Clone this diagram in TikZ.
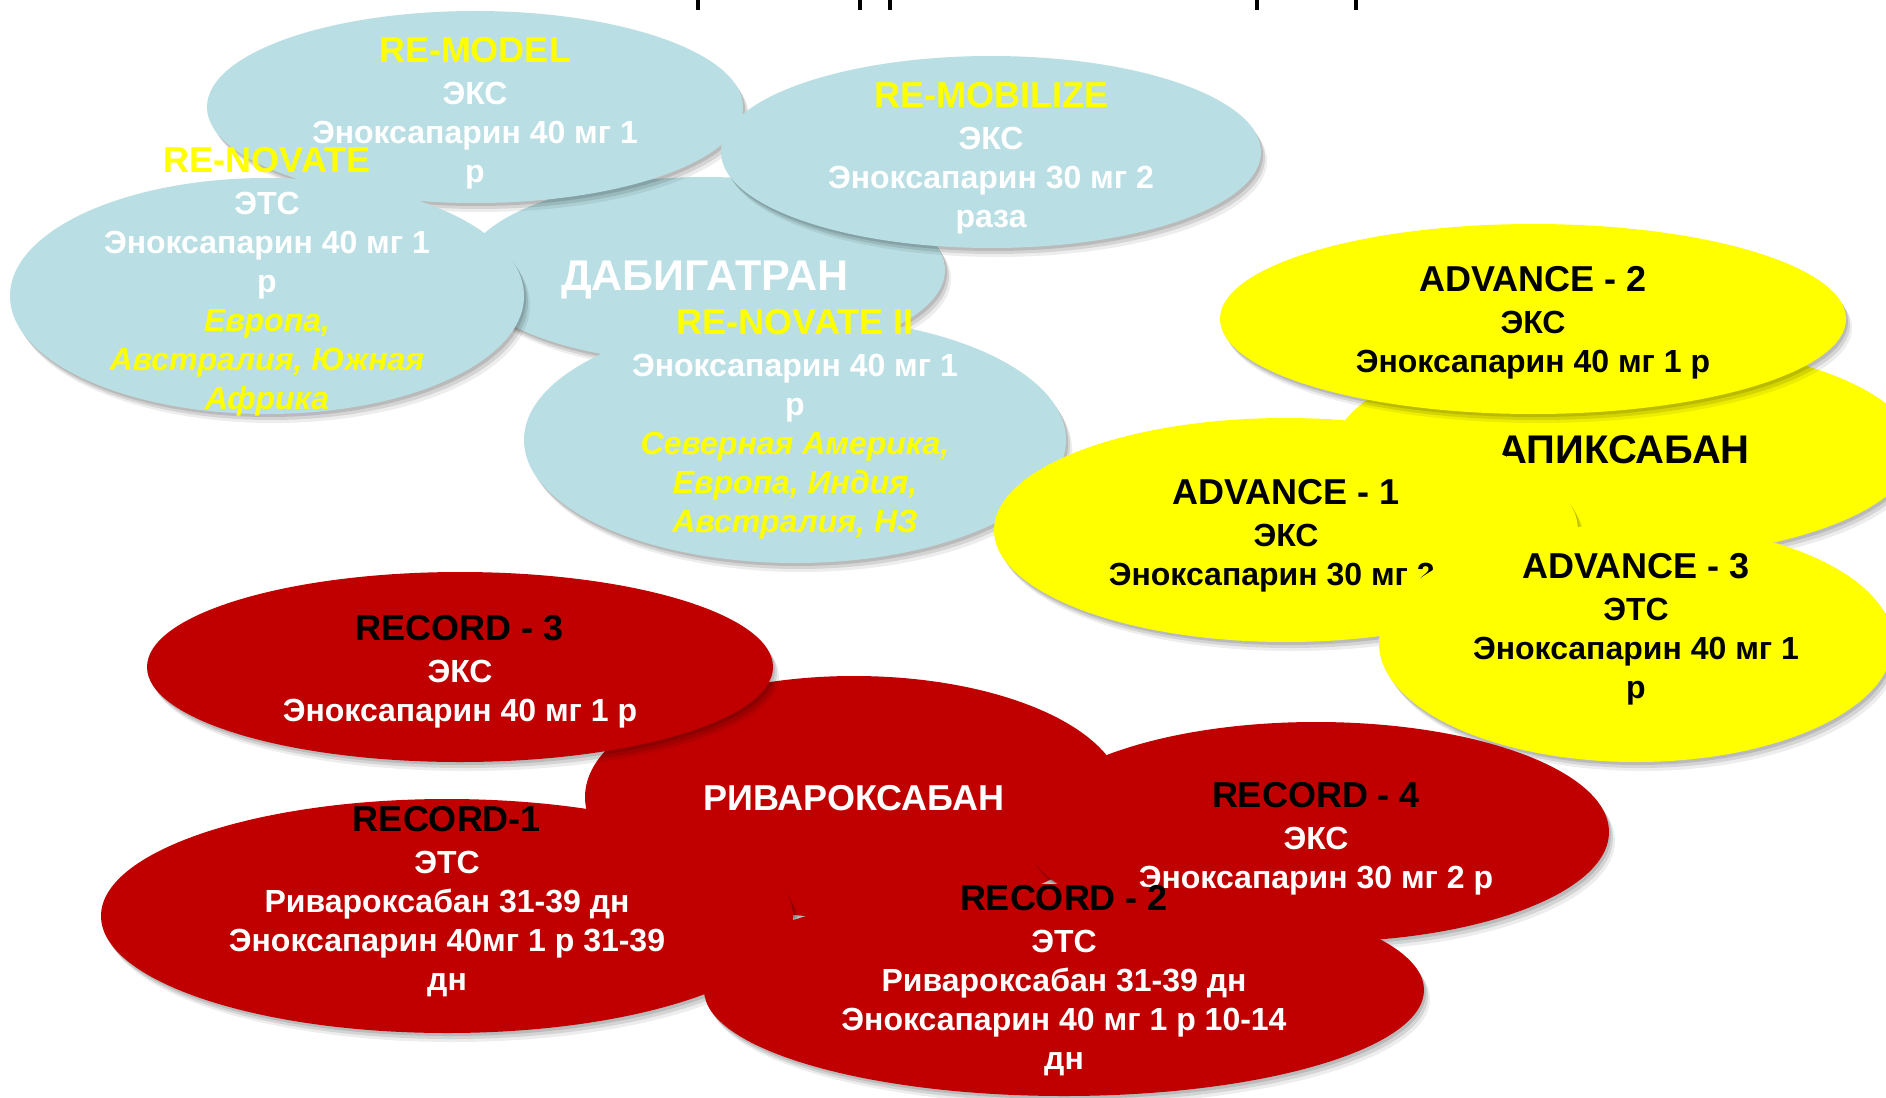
\documentclass[tikz,border=0pt]{standalone}
\usepackage{fontspec}
\setmainfont{Liberation Sans}
\definecolor{trialblue}{RGB}{185,223,228}
\definecolor{trialred}{RGB}{192,0,0}
\definecolor{trialyellow}{RGB}{255,255,0}
\usetikzlibrary{
  shapes.geometric,
  shadows,
}
\newcommand{\trialname}[1]{{\fontsize{36}{42}\selectfont #1}}
\tikzset{
  oval/.style={ellipse,inner sep=0pt,
    drop shadow={shadow xshift=2pt,shadow yshift=-3pt,opacity=0.12,fill=black},
    drop shadow={shadow xshift=4pt,shadow yshift=-6pt,opacity=0.10,fill=black},
    drop shadow={shadow xshift=6pt,shadow yshift=-9pt,opacity=0.07,fill=black}},
  blueoval/.style={oval,fill=trialblue},
  yellowoval/.style={oval,fill=trialyellow},
  redoval/.style={oval,fill=trialred},
  txt/.style={align=center,inner sep=0pt,font=\bfseries\fontsize{32}{39}\selectfont},
  drug/.style={inner sep=0pt,font=\bfseries\fontsize{40}{48}\selectfont},
}

\begin{document}
\begin{tikzpicture}[x=1pt,y=-1pt]
  \useasboundingbox (0,0) rectangle (1886,1097);
  \clip (0,0) rectangle (1886,1097);
  \fill[white] (0,0) rectangle (1886,1097);

  % cut title
  \foreach \x in {698,860,890,1257,1356}
    \draw[line width=3.5pt] (\x,0) -- (\x,10);

  % dabigatran
  \node[blueoval,minimum width=480,minimum height=186] (dabi) at (705,270) {};
  \node[drug,text=white,font=\bfseries\fontsize{43}{50}\selectfont] (dabi-t)
    at ([yshift=-10pt]dabi) {ДАБИГАТРАН};

  \node[blueoval,minimum width=536,minimum height=192] (remodel) at (475,107) {};
  \node[txt,text=white] (remodel-t) at ([yshift=-6pt]remodel)
    {\textcolor{trialyellow}{\trialname{RE-MODEL}}\\[3pt] ЭКС\\ Эноксапарин 40 мг 1\\ р};

  \node[blueoval,minimum width=514,minimum height=236] (renovate) at (267,296) {};
  \node[txt,text=white] (renovate-t) at ([yshift=14pt]renovate)
    {\textcolor{trialyellow}{\trialname{RE-NOVATE}}\\[3pt] ЭТС\\ Эноксапарин 40 мг 1\\ р\\
     \textcolor{trialyellow}{\itshape Европа,}\\ \textcolor{trialyellow}{\itshape Австралия, Южная}\\
     \textcolor{trialyellow}{\itshape Африка}};

  \node[blueoval,minimum width=540,minimum height=192] (remobilize) at (991,152) {};
  \node[txt,text=white] (remobilize-t) at ([yshift=-6pt]remobilize)
    {\textcolor{trialyellow}{\trialname{RE-MOBILIZE}}\\[3pt] ЭКС\\ Эноксапарин 30 мг 2\\ раза};

  \node[blueoval,minimum width=542,minimum height=246] (renovate2) at (795,440) {};
  \node[txt,text=white] (renovate2-t) at ([yshift=16pt]renovate2)
    {\textcolor{trialyellow}{\trialname{RE-NOVATE II}}\\[3pt] Эноксапарин 40 мг 1\\ р\\
     \textcolor{trialyellow}{\itshape Северная Америка,}\\ \textcolor{trialyellow}{\itshape Европа, Индия,}\\
     \textcolor{trialyellow}{\itshape Австралия, НЗ}};

  % apixaban
  \node[yellowoval,minimum width=580,minimum height=216] (apix) at (1624,450) {};
  \node[drug] (apix-t) at (apix) {АПИКСАБАН};

  \node[yellowoval,minimum width=626,minimum height=190] (adv2) at (1533,319) {};
  \node[txt] (adv2-t) at ([yshift=-4pt]adv2)
    {\trialname{ADVANCE - 2}\\[3pt] ЭКС\\ Эноксапарин 40 мг 1 р};

  \node[yellowoval,minimum width=584,minimum height=224] (adv1) at (1286,530) {};
  \node[txt] (adv1-t) at ([yshift=-6pt]adv1)
    {\trialname{ADVANCE - 1}\\[3pt] ЭКС\\ Эноксапарин 30 мг 2 р};

  \node[yellowoval,minimum width=514,minimum height=238] (adv3) at (1636,643) {};
  \node[txt] (adv3-t) at ([yshift=14pt]adv3)
    {\trialname{ADVANCE - 3}\\[3pt] ЭТС\\ Эноксапарин 40 мг 1\\ р};

  % rivaroxaban
  \node[redoval,minimum width=538,minimum height=242] (riva) at (854,797) {};
  \node[drug,text=white,font=\bfseries\fontsize{36}{42}\selectfont] (riva-t)
    at ([yshift=-1pt]riva) {РИВАРОКСАБАН};

  \node[redoval,minimum width=626,minimum height=190] (record3) at (460,667) {};
  \node[txt,text=white] (record3-t) at ([yshift=-5pt]record3)
    {\textcolor{black}{\trialname{RECORD - 3}}\\[3pt] ЭКС\\ Эноксапарин 40 мг 1 р};

  \node[redoval,minimum width=692,minimum height=234] (record1) at (447,916) {};
  \node[txt,text=white] (record1-t) at ([yshift=14pt]record1)
    {\textcolor{black}{\trialname{RECORD-1}}\\[3pt] ЭТС\\ Ривароксабан 31-39 дн\\
     Эноксапарин 40мг 1 р 31-39\\ дн};

  \node[redoval,minimum width=586,minimum height=220] (record4) at (1316,832) {};
  \node[txt,text=white] (record4-t) at ([yshift=-7pt]record4)
    {\textcolor{black}{\trialname{RECORD - 4}}\\[3pt] ЭКС\\ Эноксапарин 30 мг 2 р};

  \node[redoval,minimum width=720,minimum height=212] (record2) at (1064,990) {};
  \node[txt,text=white] (record2-t) at ([yshift=9pt]record2)
    {\textcolor{black}{\trialname{RECORD - 2}}\\[3pt] ЭТС\\ Ривароксабан 31-39 дн\\
     Эноксапарин 40 мг 1 р 10-14\\ дн};
\end{tikzpicture}
\end{document}
